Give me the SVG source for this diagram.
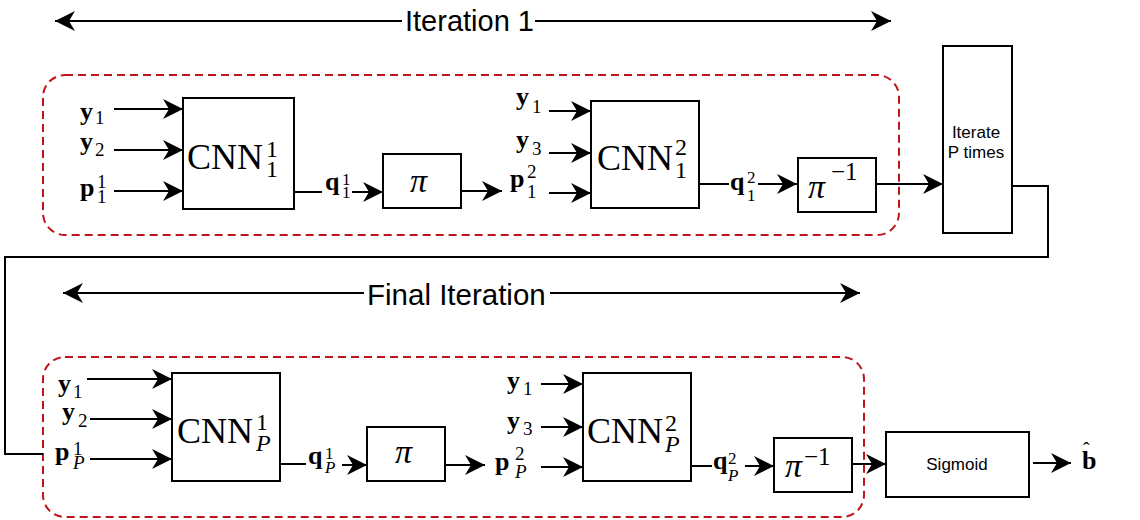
<svg xmlns="http://www.w3.org/2000/svg" width="1140" height="520" viewBox="0 0 1140 520">
<style>
.bg{fill:#fff}
.box{fill:#fff;stroke:#000;stroke-width:2}
.ln{fill:none;stroke:#000;stroke-width:2}
.dash{fill:none;stroke:#c0141c;stroke-width:2;stroke-dasharray:8 5}
.cm{font-family:"Liberation Serif","DejaVu Serif",serif;fill:#000}
.bv{font-weight:bold;font-size:26px}
.nb{font-weight:normal}
.s19{font-size:19px}
.s17{font-size:17px}
.cnn{font-size:36px}
.s24{font-size:24px}
.it{font-style:italic}
.pi{font-size:34px;font-style:italic}
.sans{font-family:"Liberation Sans",Arial,sans-serif;fill:#000}
</style>
<defs>
<marker id="ah" viewBox="0 0 20 20" refX="20" refY="10" markerWidth="20" markerHeight="20" markerUnits="userSpaceOnUse" orient="auto-start-reverse">
<path d="M0,0 L20,10 L0,20 L6,10 Z" fill="#000"/>
</marker>
</defs>
<rect class="bg" x="0" y="0" width="1140" height="520"/>

<g id="iteration1-label">
<line class="ln" x1="55" y1="21" x2="402" y2="21" marker-start="url(#ah)"/>
<line class="ln" x1="535" y1="21" x2="891" y2="21" marker-end="url(#ah)"/>
<text class="sans" x="405" y="31" font-size="29">Iteration 1</text>
</g>

<g id="final-iteration-label">
<line class="ln" x1="63" y1="293" x2="364" y2="293" marker-start="url(#ah)"/>
<line class="ln" x1="550" y1="293" x2="860" y2="293" marker-end="url(#ah)"/>
<text class="sans" x="367" y="305" font-size="29.5">Final Iteration</text>
</g>

<g id="group-iteration1">
<rect class="dash" x="43" y="75" width="856" height="160" rx="22" ry="22"/>
</g>
<g id="group-final">
<rect class="dash" x="43" y="357" width="821" height="160" rx="22" ry="22"/>
</g>

<g id="connectors">
<line class="ln" x1="114" y1="109" x2="183" y2="109" marker-end="url(#ah)"/>
<line class="ln" x1="114" y1="150" x2="183" y2="150" marker-end="url(#ah)"/>
<line class="ln" x1="114" y1="191" x2="183" y2="191" marker-end="url(#ah)"/>
<line class="ln" x1="294" y1="192" x2="322" y2="192"/>
<line class="ln" x1="352" y1="192" x2="383" y2="192" marker-end="url(#ah)"/>
<line class="ln" x1="461" y1="191" x2="502" y2="191" marker-end="url(#ah)"/>
<line class="ln" x1="549" y1="111" x2="591" y2="111" marker-end="url(#ah)"/>
<line class="ln" x1="549" y1="153" x2="591" y2="153" marker-end="url(#ah)"/>
<line class="ln" x1="549" y1="193" x2="591" y2="193" marker-end="url(#ah)"/>
<line class="ln" x1="699" y1="184" x2="729" y2="184"/>
<line class="ln" x1="758" y1="184" x2="797" y2="184" marker-end="url(#ah)"/>
<line class="ln" x1="876" y1="184" x2="943" y2="184" marker-end="url(#ah)"/>
<polyline class="ln" points="1012,186 1048,186 1048,257 5,257 5,454 43,454"/>

<line class="ln" x1="87" y1="379" x2="172" y2="379" marker-end="url(#ah)"/>
<line class="ln" x1="90" y1="419" x2="172" y2="419" marker-end="url(#ah)"/>
<line class="ln" x1="90" y1="459" x2="172" y2="459" marker-end="url(#ah)"/>
<line class="ln" x1="280" y1="464" x2="306" y2="464"/>
<line class="ln" x1="342" y1="465" x2="367" y2="465" marker-end="url(#ah)"/>
<line class="ln" x1="445" y1="465" x2="485" y2="465" marker-end="url(#ah)"/>
<line class="ln" x1="541" y1="384" x2="583" y2="384" marker-end="url(#ah)"/>
<line class="ln" x1="541" y1="427" x2="583" y2="427" marker-end="url(#ah)"/>
<line class="ln" x1="541" y1="467" x2="583" y2="467" marker-end="url(#ah)"/>
<line class="ln" x1="691" y1="466" x2="712" y2="466"/>
<line class="ln" x1="745" y1="466" x2="774" y2="466" marker-end="url(#ah)"/>
<line class="ln" x1="852" y1="464" x2="886" y2="464" marker-end="url(#ah)"/>
<line class="ln" x1="1033" y1="463" x2="1071" y2="463" marker-end="url(#ah)"/>
</g>

<g id="labels-top">
<text class="cm bv" x="80" y="120">y<tspan class="nb s19" x="95" y="124">1</tspan></text>
<text class="cm bv" x="80" y="150">y<tspan class="nb s19" x="95" y="156">2</tspan></text>
<text class="cm bv" x="80" y="196">p<tspan class="nb s19" x="97" y="188">1</tspan><tspan class="nb s19" x="97" y="203">1</tspan></text>
<text class="cm bv" x="325" y="190">q<tspan class="nb s17" x="342" y="185">1</tspan><tspan class="nb s17" x="342" y="198">1</tspan></text>
<text class="cm bv" x="510" y="187">p<tspan class="nb s19" x="527" y="178">2</tspan><tspan class="nb s19" x="527" y="198">1</tspan></text>
<text class="cm bv" x="516" y="105">y<tspan class="nb s19" x="532" y="113">1</tspan></text>
<text class="cm bv" x="516" y="148">y<tspan class="nb s19" x="532" y="155">3</tspan></text>
<text class="cm bv" x="730" y="190">q<tspan class="nb s17" x="747" y="183">2</tspan><tspan class="nb s17" x="747" y="201">1</tspan></text>
</g>

<g id="labels-bottom">
<text class="cm bv" x="58" y="392">y<tspan class="nb s19" x="73" y="398">1</tspan></text>
<text class="cm bv" x="62" y="420">y<tspan class="nb s19" x="78" y="427">2</tspan></text>
<text class="cm bv" x="55" y="460">p<tspan class="nb s19" x="73" y="455">1</tspan><tspan class="nb s19 it" x="73" y="469">P</tspan></text>
<text class="cm bv" x="308" y="464">q<tspan class="nb s17" x="325" y="459">1</tspan><tspan class="nb s17 it" x="325" y="473">P</tspan></text>
<text class="cm bv" x="495" y="470">p<tspan class="nb s19" x="515" y="460">2</tspan><tspan class="nb s19 it" x="515" y="478">P</tspan></text>
<text class="cm bv" x="507" y="389">y<tspan class="nb s19" x="523" y="395">1</tspan></text>
<text class="cm bv" x="507" y="429">y<tspan class="nb s19" x="523" y="435">3</tspan></text>
<text class="cm bv" x="713" y="469">q<tspan class="nb s17" x="728" y="464">2</tspan><tspan class="nb s17 it" x="728" y="481">P</tspan></text>
</g>

<g id="cnn-1-1">
<rect class="box" x="183" y="98" width="111" height="111"/>
<text class="cm cnn" x="187" y="169">CNN<tspan class="s24" x="266" y="157">1</tspan><tspan class="s24" x="266" y="177">1</tspan></text>
</g>
<g id="pi-1">
<rect class="box" x="383" y="154" width="78" height="54"/>
<text class="cm pi" x="410" y="192">π</text>
</g>
<g id="cnn-1-2">
<rect class="box" x="591" y="101" width="108" height="107"/>
<text class="cm cnn" x="597" y="170">CNN<tspan class="s24" x="675" y="155">2</tspan><tspan class="s24" x="675" y="178">1</tspan></text>
</g>
<g id="pinv-1">
<rect class="box" x="798" y="158" width="78" height="54"/>
<text class="cm pi" x="808" y="198">π<tspan font-size="25" font-style="normal" x="831" y="180">−1</tspan></text>
</g>
<g id="iterate">
<rect class="box" x="943" y="46" width="69" height="187"/>
<text class="sans" font-size="17" x="976" y="138" text-anchor="middle">Iterate<tspan x="976" y="158">P times</tspan></text>
</g>

<g id="cnn-P-1">
<rect class="box" x="172" y="373" width="108" height="108"/>
<text class="cm cnn" x="177" y="443">CNN<tspan class="s24" x="256" y="430">1</tspan><tspan class="s24 it" x="256" y="451">P</tspan></text>
</g>
<g id="pi-P">
<rect class="box" x="367" y="427" width="78" height="54"/>
<text class="cm pi" x="395" y="463">π</text>
</g>
<g id="cnn-P-2">
<rect class="box" x="583" y="373" width="108" height="108"/>
<text class="cm cnn" x="587" y="443">CNN<tspan class="s24" x="665" y="431">2</tspan><tspan class="s24 it" x="665" y="452">P</tspan></text>
</g>
<g id="pinv-P">
<rect class="box" x="774" y="438" width="78" height="54"/>
<text class="cm pi" x="785" y="477">π<tspan font-size="25" font-style="normal" x="804" y="465">−1</tspan></text>
</g>
<g id="sigmoid">
<rect class="box" x="886" y="432" width="143" height="65"/>
<text class="sans" font-size="17" x="957" y="470" text-anchor="middle">Sigmoid</text>
</g>
<g id="output-b">
<text class="cm bv" x="1082" y="469">b<tspan class="nb" font-size="20" x="1083" y="457">ˆ</tspan></text>
</g>
</svg>
